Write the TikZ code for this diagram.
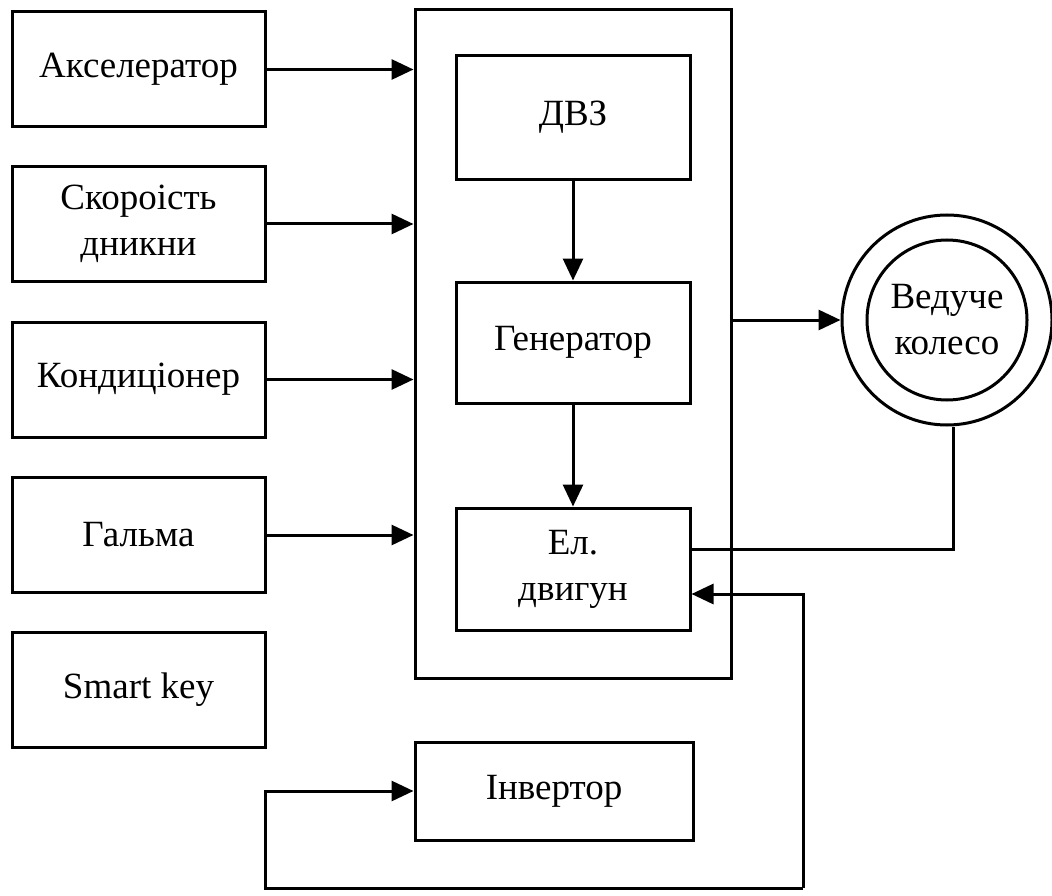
\documentclass[tikz,border=0pt]{standalone}
\usepackage{fontspec}
\setmainfont{Liberation Serif}
\usetikzlibrary{arrows.meta}
\begin{document}
\begin{tikzpicture}[x=1pt,y=-1pt,
  every node/.style={font=\fontsize{37}{46}\selectfont},
  blk/.style={draw,line width=3pt,inner sep=0pt,align=center},
  ln/.style={line width=3pt},
  arr/.style={line width=3pt,-{Triangle[length=22pt,width=20pt]}}]
\useasboundingbox (0,0) rectangle (1052,896);
% left boxes
\node[blk,minimum width=253pt,minimum height=115pt] (acc) at (138.5,69.5) {Акселератор};
\node[blk,minimum width=253pt,minimum height=115pt] (spd) at (138.5,224) {Скороість\\дникни};
\node[blk,minimum width=253pt,minimum height=115pt] (cond) at (138.5,379.5) {Кондиціонер};
\node[blk,minimum width=253pt,minimum height=115pt] (brk) at (138.5,535) {Гальма};
\node[blk,minimum width=253pt,minimum height=115pt] (key) at (138.5,690) {Smart key};
% big box
\node[blk,minimum width=316pt,minimum height=668pt] (big) at (573,344) {};
% inner boxes
\node[blk,minimum width=234pt,minimum height=124pt] (ice) at (573,117.5) {ДВЗ};
\node[blk,minimum width=234pt,minimum height=121pt] (gen) at (573,342.5) {Генератор};
\node[blk,minimum width=234pt,minimum height=122pt] (mot) at (573,569) {Ел.\\двигун};
% inverter
\node[blk,minimum width=278pt,minimum height=98pt] (inv) at (554,791) {Інвертор};
% wheel
\node[draw,circle,line width=3pt,minimum size=210pt,inner sep=0pt] (wheel) at (947,320) {};
\node[draw,circle,line width=3pt,minimum size=160pt,inner sep=0pt,align=center] (wheelin) at (947,320) {Ведуче\\колесо};
% connectors
\draw[arr] (acc.east) -- (acc.east -| big.west);
\draw[arr] (spd.east) -- (spd.east -| big.west);
\draw[arr] (cond.east) -- (cond.east -| big.west);
\draw[arr] (brk.east) -- (brk.east -| big.west);
\draw[arr] (ice.south) -- (gen.north);
\draw[arr] (gen.south) -- (mot.north);
\draw[arr] (big.east |- wheel.west) -- (wheel.west);
\coordinate (c1) at (953,549);
\draw[ln] (wheel.south -| c1) -- (c1) -- (c1 -| mot.east);
\coordinate (f1) at (803,594);
\coordinate (f2) at (803,888);
\coordinate (f3) at (265,888);
\draw[arr] (f2) -- (f1) -- (f1 -| mot.east);
\draw[arr] (f2) -- (f3) -- (f3 |- inv.west) -- (inv.west);
\end{tikzpicture}
\end{document}
